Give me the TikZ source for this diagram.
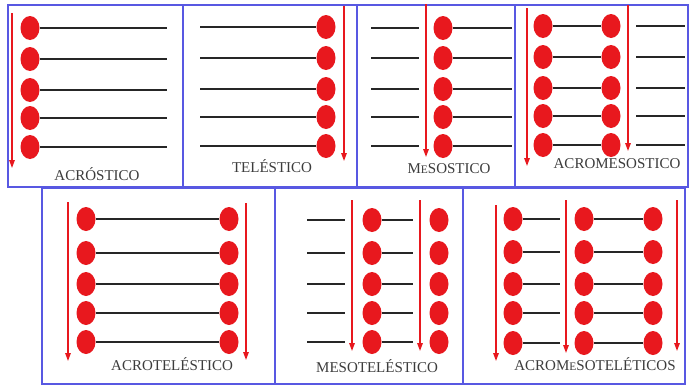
\documentclass[tikz,border=0pt]{standalone}
\usepackage{fontspec}
\setmainfont{Liberation Serif}
\usetikzlibrary{arrows.meta,shapes.geometric}
\definecolor{framecol}{RGB}{88,88,226}
\definecolor{dotcol}{RGB}{232,24,30}
\definecolor{textcol}{RGB}{60,60,60}

\begin{document}
\begin{tikzpicture}[
  x=1pt, y=-1pt,
  frame/.style={draw=framecol, line width=1.8pt},
  dot/.style={ellipse, fill=dotcol, minimum width=19pt, minimum height=24pt, inner sep=0pt},
  bar/.style={line width=2.9pt, black!85},
  down/.style={-{Triangle[length=8pt,width=5.5pt]}, line width=1.4pt, dotcol},
  lbl/.style={font=\fontsize{15}{16}\selectfont, text=textcol, inner sep=0pt}
]
\useasboundingbox (0,0) rectangle (690,386);
\fill[white] (0,0) rectangle (690,386);

% frames
\draw[frame] (8,5) rectangle (183,187);
\draw[frame] (183,5) rectangle (357,187);
\draw[frame] (357,5) rectangle (515,187);
\draw[frame] (515,5) rectangle (688,187);
\draw[frame] (42,188) rectangle (275,384);
\draw[frame] (275,188) rectangle (463,384);
\draw[frame] (463,188) rectangle (685,384);

% acrostico
\foreach \i/\y in {1/28,2/59,3/90,4/118,5/147} {
  \node[dot] (ac\i) at (30,\y) {};
  \coordinate (ac\i e) at (167,\y);
  \draw[bar] (ac\i.east) -- (ac\i e);
}
\coordinate (actop) at (12,13);
\coordinate (acbot) at (12,168);
\draw[down] (actop) -- (acbot);
\node[lbl] (aclbl) at (97,174) {ACRÓSTICO};

% telestico
\foreach \i/\y in {1/27,2/58,3/89,4/117,5/146} {
  \node[dot] (te\i) at (326,\y) {};
  \coordinate (te\i w) at (200,\y);
  \draw[bar] (te\i w) -- (te\i.west);
}
\coordinate (tetop) at (344,6);
\coordinate (tebot) at (344,161);
\draw[down] (tetop) -- (tebot);
\node[lbl] (telbl) at (272,166) {TELÉSTICO};

% mesostico
\foreach \i/\y in {1/28,2/58,3/89,4/117,5/146} {
  \node[dot] (me\i) at (443,\y) {};
  \coordinate (me\i a) at (371,\y);
  \coordinate (me\i b) at (419,\y);
  \coordinate (me\i c) at (512,\y);
  \draw[bar] (me\i a) -- (me\i b);
  \draw[bar] (me\i.east) -- (me\i c);
}
\coordinate (metop) at (426,4);
\coordinate (mebot) at (426,157);
\draw[down] (metop) -- (mebot);
\node[lbl] (melbl) at (449,169) {M{\fontsize{11.5}{12}\selectfont E}SOSTICO};

% acromesostico
\foreach \i/\y in {1/26,2/57,3/88,4/116,5/145} {
  \node[dot] (am\i) at (543,\y) {};
  \node[dot] (amm\i) at (611,\y) {};
  \coordinate (am\i r) at (685,\y);
  \coordinate (am\i l) at (636,\y);
  \draw[bar] (am\i) -- (amm\i);
  \draw[bar] (am\i l) -- (am\i r);
}
\coordinate (amtop) at (527,8);
\coordinate (ambot) at (527,166);
\draw[down] (amtop) -- (ambot);
\coordinate (amtopb) at (628,5);
\coordinate (ambotb) at (628,151);
\draw[down] (amtopb) -- (ambotb);
\node[lbl] (amlbl) at (617,164) {ACROMESOSTICO};

% acrotelestico
\foreach \i/\y in {1/219,2/253,3/284,4/313,5/342} {
  \node[dot] (at\i) at (86,\y) {};
  \node[dot] (att\i) at (229,\y) {};
  \draw[bar] (at\i) -- (att\i);
}
\coordinate (attop) at (68,202);
\coordinate (atbot) at (68,361);
\draw[down] (attop) -- (atbot);
\coordinate (attopb) at (246,203);
\coordinate (atbotb) at (246,360);
\draw[down] (attopb) -- (atbotb);
\node[lbl] (atlbl) at (172,364) {ACROTELÉSTICO};

% mesotelestico
\foreach \i/\y in {1/220,2/253,3/284,4/313,5/342} {
  \node[dot] (mt\i) at (372,\y) {};
  \node[dot] (mtt\i) at (439,\y) {};
  \coordinate (mt\i a) at (307,\y);
  \coordinate (mt\i b) at (345,\y);
  \coordinate (mt\i c) at (413,\y);
  \draw[bar] (mt\i a) -- (mt\i b);
  \draw[bar] (mt\i.east) -- (mt\i c);
}
\coordinate (mttop) at (352,200);
\coordinate (mtbot) at (352,351);
\draw[down] (mttop) -- (mtbot);
\coordinate (mttopb) at (420,200);
\coordinate (mtbotb) at (420,351);
\draw[down] (mttopb) -- (mtbotb);
\node[lbl] (mtlbl) at (377,366) {MESOTELÉSTICO};

% acromesoteleticos
\foreach \i/\y in {1/219,2/252,3/284,4/313,5/343} {
  \node[dot] (amt\i) at (513,\y) {};
  \node[dot] (amtt\i) at (584,\y) {};
  \node[dot] (amttt\i) at (653,\y) {};
  \coordinate (amt\i e) at (560,\y);
  \draw[bar] (amt\i.east) -- (amt\i e);
  \draw[bar] (amtt\i) -- (amttt\i);
}
\coordinate (amttop) at (496,205);
\coordinate (amtbot) at (496,361);
\draw[down] (amttop) -- (amtbot);
\coordinate (amttopb) at (566,200);
\coordinate (amtbotb) at (566,353);
\draw[down] (amttopb) -- (amtbotb);
\coordinate (amttopc) at (677,200);
\coordinate (amtbotc) at (677,351);
\draw[down] (amttopc) -- (amtbotc);
\node[lbl] (amtlbl) at (595,364) {ACROM{\fontsize{11.5}{12}\selectfont E}SOTELÉTICOS};
\end{tikzpicture}
\end{document}
